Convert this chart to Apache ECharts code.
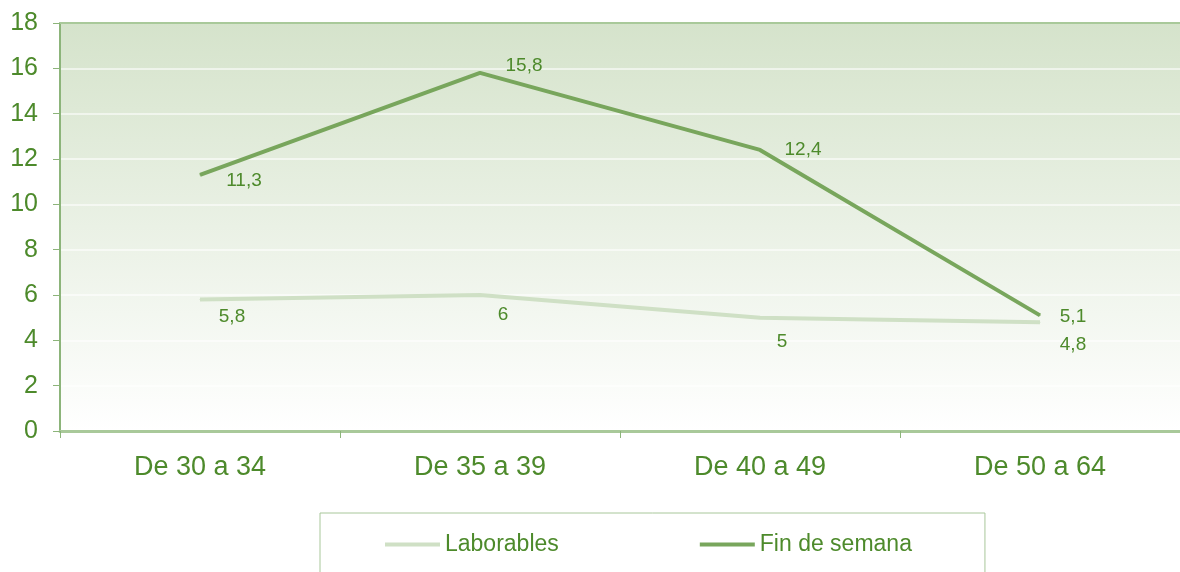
<!DOCTYPE html>
<html>
<head>
<meta charset="utf-8">
<script src="https://cdn.jsdelivr.net/npm/echarts@6/dist/echarts.min.js"></script>
<style>
  html, body { margin: 0; padding: 0; background: #fff; }
  #main { width: 1180px; height: 572px; }
</style>
</head>
<body>
<div id="main"></div>
<script>
var categories = ['De 30 a 34', 'De 35 a 39', 'De 40 a 49', 'De 50 a 64'];
var laborables = [5.8, 6, 5, 4.8];
var finDeSemana = [11.3, 15.8, 12.4, 5.1];
// label offsets per point (label placement only)
var laborablesOffsets = [[32, 17], [23, 20], [22, 24], [33, 23]];
var finOffsets = [[44, 6], [44, -7], [43, 0], [33, 1]];

var green = '#4d8a2b';
var font = '"Liberation Sans", Arial, sans-serif';

function withLabels(values, offsets) {
    return values.map(function (v, i) {
        return {
            value: v,
            label: { offset: offsets[i] }
        };
    });
}

function commaFmt(p) {
    return String(p.value).replace('.', ',');
}

var myChart = echarts.init(document.getElementById('main'));
var option = {
    animation: false,
    textStyle: { fontFamily: font },
    grid: {
        left: 60,
        top: 23,
        width: 1124,
        height: 408,
        show: true,
        borderWidth: 0,
        backgroundColor: new echarts.graphic.LinearGradient(0, 0, 0, 1, [
            { offset: 0, color: '#d5e3cb' },
            { offset: 1, color: '#ffffff' }
        ])
    },
    legend: {
        left: 320,
        top: 513,
        padding: [20, 73, 40, 65],
        borderColor: '#a8c79a',
        borderWidth: 1,
        itemGap: 141,
        itemWidth: 55,
        itemHeight: 4,
        icon: 'rect',
        textStyle: { color: green, fontSize: 23, fontFamily: font },
        data: ['Laborables', 'Fin de semana']
    },
    xAxis: [{
        type: 'category',
        data: categories,
        boundaryGap: true,
        axisLine: { lineStyle: { color: '#a9c99a', width: 3 } },
        axisTick: { show: true, length: 7, lineStyle: { color: '#8cb47a', width: 1 } },
        axisLabel: { color: green, fontSize: 27, margin: 23 },
        splitLine: { show: false }
    }, {
        type: 'category',
        data: categories,
        position: 'top',
        axisLine: { lineStyle: { color: '#a9c99a', width: 2 } },
        axisTick: { show: false },
        axisLabel: { show: false }
    }],
    yAxis: {
        type: 'value',
        min: 0,
        max: 18,
        interval: 2,
        axisLine: { show: true, lineStyle: { color: '#8cb47a', width: 2 } },
        axisTick: { show: true, length: 7, lineStyle: { color: '#8cb47a' } },
        axisLabel: { color: green, fontSize: 25, margin: 22 },
        splitLine: { lineStyle: { color: 'rgba(255,255,255,0.75)', width: 1.5 } }
    },
    series: [{
        name: 'Laborables',
        type: 'line',
        data: withLabels(laborables, laborablesOffsets),
        symbol: 'circle',
        symbolSize: 1,
        itemStyle: { color: '#cfe0c5' },
        lineStyle: { color: '#cfe0c5', width: 4 },
        label: {
            show: true,
            position: 'inside',
            color: green,
            fontSize: 19,
            formatter: commaFmt
        },
        z: 2
    }, {
        name: 'Fin de semana',
        type: 'line',
        data: withLabels(finDeSemana, finOffsets),
        symbol: 'circle',
        symbolSize: 1,
        itemStyle: { color: '#78a65c' },
        lineStyle: { color: '#78a65c', width: 4 },
        label: {
            show: true,
            position: 'inside',
            color: green,
            fontSize: 19,
            formatter: commaFmt
        },
        z: 3
    }]
};
myChart.setOption(option);
</script>
</body>
</html>
